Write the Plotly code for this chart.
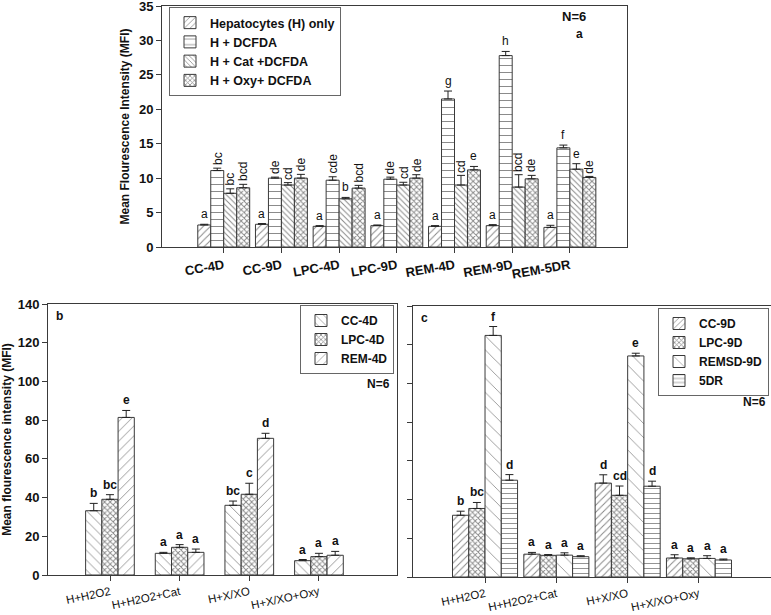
import plotly.graph_objects as go

# ---------------- Panel a data ----------------
a_categories = ["CC-4D", "CC-9D", "LPC-4D", "LPC-9D", "REM-4D", "REM-9D", "REM-5DR"]
a_series_names = ["Hepatocytes (H) only", "H + DCFDA", "H + Cat +DCFDA", "H + Oxy+ DCFDA"]
a_h_only = [3.2, 3.3, 3.0, 3.1, 3.0, 3.1, 2.85]
a_h_only_err = [0.1, 0.1, 0.1, 0.1, 0.1, 0.15, 0.3]
a_dcfda = [11.1, 10.0, 9.7, 9.85, 21.5, 27.8, 14.4]
a_dcfda_err = [0.35, 0.15, 0.5, 0.3, 1.15, 0.6, 0.4]
a_cat = [7.8, 9.0, 7.0, 9.0, 9.0, 8.7, 11.3]
a_cat_err = [0.65, 0.35, 0.2, 0.4, 1.4, 1.8, 0.8]
a_oxy = [8.6, 10.0, 8.55, 10.0, 11.2, 9.9, 10.1]
a_oxy_err = [0.5, 0.55, 0.4, 0.5, 0.5, 0.5, 0.15]
a_h_only_lbl = ["a", "a", "a", "a", "a", "a", "a"]
a_dcfda_lbl = ["bc", "de", "cde", "de", "g", "h", "f"]
a_cat_lbl = ["bc", "cd", "b", "cd", "cd", "bcd", "e"]
a_oxy_lbl = ["bcd", "de", "bcd", "de", "e", "de", "de"]

# ---------------- Panel b data ----------------
b_categories = ["H+H2O2", "H+H2O2+Cat", "H+X/XO", "H+X/XO+Oxy"]
b_series_names = ["CC-4D", "LPC-4D", "REM-4D"]
b_cc4d = [33.2, 11.2, 36.0, 7.4]
b_cc4d_err = [3.8, 0.5, 2.2, 0.6]
b_lpc4d = [39.1, 14.3, 41.7, 9.5]
b_lpc4d_err = [2.4, 1.4, 5.7, 1.7]
b_rem4d = [81.4, 11.7, 70.6, 10.2]
b_rem4d_err = [3.6, 1.7, 2.6, 2.0]
b_cc4d_lbl = ["b", "a", "bc", "a"]
b_lpc4d_lbl = ["bc", "a", "c", "a"]
b_rem4d_lbl = ["e", "a", "d", "a"]

# ---------------- Panel c data ----------------
c_categories = ["H+H2O2", "H+H2O2+Cat", "H+X/XO", "H+X/XO+Oxy"]
c_series_names = ["CC-9D", "LPC-9D", "REMSD-9D", "5DR"]
c_cc9d = [31.9, 11.8, 48.5, 9.8]
c_cc9d_err = [2.1, 0.9, 4.3, 1.7]
c_lpc9d = [35.4, 11.2, 42.2, 9.4]
c_lpc9d_err = [3.1, 0.4, 4.8, 0.5]
c_remsd9d = [124.8, 11.3, 114.2, 9.6]
c_remsd9d_err = [4.6, 1.2, 1.4, 1.4]
c_5dr = [50.0, 10.5, 46.9, 8.8]
c_5dr_err = [2.9, 0.5, 2.6, 0.5]
c_cc9d_lbl = ["b", "a", "d", "a"]
c_lpc9d_lbl = ["bc", "a", "cd", "a"]
c_remsd9d_lbl = ["f", "a", "e", "a"]
c_5dr_lbl = ["d", "a", "d", "a"]

FONT = "Liberation Sans, Arial, sans-serif"
LINE = "#3a3a3a"

fig = go.Figure()
annotations = []


def add_series(cats, vals, errs, lbls, name, offset, width, pattern, xa, ya, legend,
               bold, lbl_size):
    fig.add_trace(go.Bar(
        x=cats, y=vals, name=name, offset=offset, width=width,
        xaxis=xa, yaxis=ya, legend=legend,
        marker=dict(color="white", line=dict(color=LINE, width=1),
                    pattern=dict(fgcolor="#111111", bgcolor="white", **pattern)),
        error_y=dict(type="data", array=errs, arrayminus=[0] * len(errs),
                     symmetric=False, color="#222222", thickness=1, width=4),
    ))
    for i, (v, e, t) in enumerate(zip(vals, errs, lbls)):
        vertical = (not bold) and len(t) > 1
        annotations.append(dict(
            x=i + offset + width / 2, y=v + e, xref=xa, yref=ya,
            text=("<b>%s</b>" % t) if bold else t, showarrow=False,
            xanchor="center", yanchor="bottom", yshift=1,
            textangle=-90 if vertical else 0,
            font=dict(family=FONT, size=lbl_size, color="#111111"),
        ))


# Panel a
aw = 0.225
a_patterns = [dict(shape="/", size=5, solidity=0.2),
              dict(shape="-", size=7, solidity=0.14),
              dict(shape="\\", size=4, solidity=0.25),
              dict(shape="x", size=4, solidity=0.42)]
for k, (vals, errs, lbls) in enumerate([(a_h_only, a_h_only_err, a_h_only_lbl),
                                         (a_dcfda, a_dcfda_err, a_dcfda_lbl),
                                         (a_cat, a_cat_err, a_cat_lbl),
                                         (a_oxy, a_oxy_err, a_oxy_lbl)]):
    add_series(a_categories, vals, errs, lbls, a_series_names[k], -0.45 + k * aw, aw,
               a_patterns[k], "x", "y", "legend", False, 12)

# Panel b
bw = 0.233
b_patterns = [dict(shape="\\", size=7, solidity=0.12),
              dict(shape="x", size=4, solidity=0.42),
              dict(shape="/", size=7, solidity=0.12)]
for k, (vals, errs, lbls) in enumerate([(b_cc4d, b_cc4d_err, b_cc4d_lbl),
                                         (b_lpc4d, b_lpc4d_err, b_lpc4d_lbl),
                                         (b_rem4d, b_rem4d_err, b_rem4d_lbl)]):
    add_series(b_categories, vals, errs, lbls, b_series_names[k], -0.35 + k * bw, bw,
               b_patterns[k], "x2", "y2", "legend2", True, 12)

# Panel c
cw = 0.228
c_patterns = [dict(shape="/", size=5, solidity=0.2),
              dict(shape="x", size=4, solidity=0.42),
              dict(shape="\\", size=10, solidity=0.08),
              dict(shape="-", size=5, solidity=0.18)]
for k, (vals, errs, lbls) in enumerate([(c_cc9d, c_cc9d_err, c_cc9d_lbl),
                                         (c_lpc9d, c_lpc9d_err, c_lpc9d_lbl),
                                         (c_remsd9d, c_remsd9d_err, c_remsd9d_lbl),
                                         (c_5dr, c_5dr_err, c_5dr_lbl)]):
    add_series(c_categories, vals, errs, lbls, c_series_names[k], -0.456 + k * cw, cw,
               c_patterns[k], "x3", "y3", "legend3", True, 12)

W, H = 771, 615


def px(x):
    return x / W


def py(y):
    return 1 - y / H


axis_common = dict(showline=True, linecolor=LINE, linewidth=1, mirror=True,
                   ticks="outside", ticklen=5, tickcolor=LINE, showgrid=False,
                   zeroline=False, automargin=False, ticklabeloverflow="allow")

# extra text annotations
for txt, x, y, size, xa in [("<b>N=6</b>", 588, 17, 13, "right"),
                            ("<b>a</b>", 585, 34, 12, "right"),
                            ("<b>b</b>", 54, 316, 12, "left"),
                            ("<b>N=6</b>", 392, 384, 12, "right"),
                            ("<b>c</b>", 419, 318, 12, "left"),
                            ("<b>N=6</b>", 768, 402, 12, "right")]:
    annotations.append(dict(x=px(x), y=py(y), xref="paper", yref="paper", text=txt,
                            showarrow=False, xanchor=xa, yanchor="middle",
                            font=dict(family=FONT, size=size, color="#111111")))

fig.update_layout(
    width=W, height=H, margin=dict(l=0, r=0, t=0, b=0, autoexpand=False),
    paper_bgcolor="white", plot_bgcolor="white",
    barmode="overlay",
    font=dict(family=FONT, color="#111111"),
    annotations=annotations,
    xaxis=dict(domain=[px(162), px(627)], anchor="y", type="category",
               range=[-1.07, 6.99], tickangle=-10,
               tickfont=dict(family=FONT, size=13, weight="bold"), **axis_common),
    yaxis=dict(domain=[py(247), py(6)], anchor="x", range=[0, 35], dtick=5,
               tickfont=dict(family=FONT, size=13, weight="bold"),
               title=dict(text="<b>Mean Flourescence Intensity (MFI)</b>",
                          font=dict(family=FONT, size=12), standoff=6),
               **axis_common),
    xaxis2=dict(domain=[px(48), px(397)], anchor="y2", type="category",
                range=[-0.89, 4.12], tickangle=-12,
                tickfont=dict(family=FONT, size=11.5), **axis_common),
    yaxis2=dict(domain=[py(575), py(304)], anchor="x2", range=[0, 140], dtick=20,
                tickfont=dict(family=FONT, size=13, weight="bold"),
                title=dict(text="<b>Mean flourescence intensity (MFI)</b>",
                           font=dict(family=FONT, size=12), standoff=4),
                **axis_common),
    xaxis3=dict(domain=[px(413), 1.0], anchor="y3", type="category",
                range=[-1.01, 4.01], tickangle=-12,
                tickfont=dict(family=FONT, size=11.5), **axis_common),
    yaxis3=dict(domain=[py(577), py(306)], anchor="x3", range=[0, 140], dtick=20,
                showticklabels=False, **axis_common),
    legend=dict(x=px(169), y=py(7), xanchor="left", yanchor="top",
                bordercolor="#666666", borderwidth=1, bgcolor="white",
                font=dict(family=FONT, size=12.5, weight="bold"), tracegroupgap=0,
                itemwidth=30),
    legend2=dict(x=px(394), y=py(305), xanchor="right", yanchor="top",
                 bordercolor="#666666", borderwidth=1, bgcolor="white",
                 font=dict(family=FONT, size=12, weight="bold"), itemwidth=30),
    legend3=dict(x=px(769), y=py(308), xanchor="right", yanchor="top",
                 bordercolor="#666666", borderwidth=1, bgcolor="white",
                 font=dict(family=FONT, size=12, weight="bold"), itemwidth=30),
)

fig.write_html("out.html", config={"displayModeBar": False},
               post_script="document.body.style.margin='0px';"
                           "document.body.style.overflow='hidden';")
